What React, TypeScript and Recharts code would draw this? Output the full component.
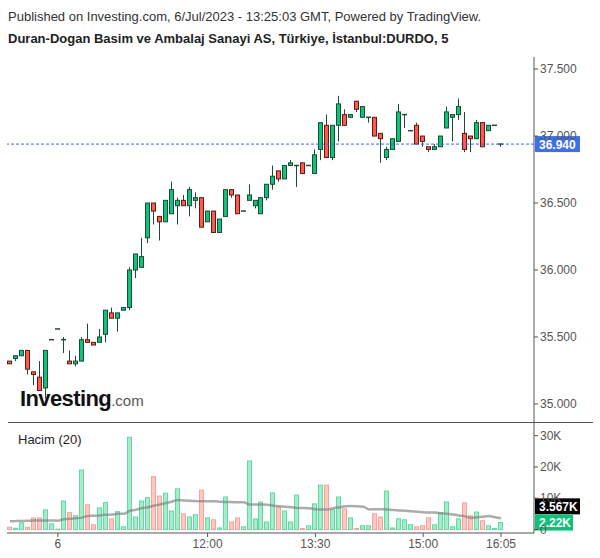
import { ComposedChart, Bar, Line, XAxis, YAxis, ReferenceLine } from 'recharts';

// 5-minute candles, DURDO
const opens = [
  35.32, 35.34, 35.36, 35.4, 35.24, 35.2, 35.12, 35.48, 35.56, 35.48,
  35.32, 35.3, 35.32, 35.48, 35.46, 35.46, 35.52, 35.68, 35.64, 35.7,
  35.72, 36.0, 36.02, 36.24, 36.5, 36.4, 36.36, 36.42, 36.48, 36.52,
  36.48, 36.52, 36.54, 36.36, 36.44, 36.28, 36.4, 36.6, 36.56, 36.44,
  36.52, 36.48, 36.42, 36.54, 36.64, 36.74, 36.68, 36.78, 36.78, 36.8,
  36.78, 36.72, 36.9, 37.08, 36.84, 37.08, 37.16, 37.14, 37.26, 37.14,
  37.14, 37.14, 37.02, 36.84, 36.9, 36.96, 37.16, 37.04, 37.08, 37.0,
  36.92, 36.9, 36.92, 37.06, 37.14, 37.16, 37.02, 37.0, 36.98, 37.1,
  37.04, 37.08, 36.94,
];
const highs = [
  35.32, 35.36, 35.4, 35.4, 35.24, 35.32, 35.4, 35.48, 35.56, 35.5,
  35.4, 35.36, 35.5, 35.6, 35.46, 35.56, 35.7, 35.72, 35.68, 35.72,
  36.02, 36.12, 36.24, 36.5, 36.5, 36.4, 36.52, 36.66, 36.54, 36.56,
  36.62, 36.58, 36.54, 36.44, 36.44, 36.38, 36.6, 36.6, 36.56, 36.44,
  36.64, 36.52, 36.54, 36.64, 36.78, 36.74, 36.78, 36.82, 36.78, 36.8,
  36.78, 36.9, 37.1, 37.16, 37.08, 37.3, 37.2, 37.16, 37.26, 37.22,
  37.14, 37.14, 37.02, 36.92, 36.98, 37.24, 37.16, 37.04, 37.1, 37.0,
  36.92, 36.94, 37.0, 37.22, 37.16, 37.28, 37.18, 37.0, 37.12, 37.1,
  37.08, 37.08, 36.94,
];
const lows = [
  35.3, 35.32, 35.36, 35.22, 35.14, 35.1, 35.04, 35.48, 35.56, 35.38,
  35.3, 35.28, 35.32, 35.46, 35.44, 35.46, 35.46, 35.64, 35.54, 35.7,
  35.7, 35.94, 36.02, 36.2, 36.34, 36.22, 36.36, 36.42, 36.34, 36.48,
  36.4, 36.46, 36.32, 36.36, 36.28, 36.28, 36.4, 36.54, 36.42, 36.44,
  36.52, 36.46, 36.42, 36.52, 36.6, 36.66, 36.68, 36.78, 36.62, 36.72,
  36.78, 36.72, 36.82, 36.84, 36.82, 36.96, 37.08, 37.14, 37.18, 37.14,
  37.1, 37.0, 36.8, 36.82, 36.9, 36.96, 37.06, 37.04, 36.94, 36.92,
  36.88, 36.9, 36.92, 37.06, 36.96, 37.12, 36.88, 36.88, 36.98, 36.92,
  37.04, 37.08, 36.92,
];
const closes = [
  35.3, 35.36, 35.4, 35.26, 35.22, 35.1, 35.4, 35.48, 35.56, 35.48,
  35.3, 35.32, 35.48, 35.46, 35.44, 35.5, 35.7, 35.64, 35.68, 35.72,
  36.0, 36.12, 36.1, 36.5, 36.44, 36.36, 36.52, 36.6, 36.52, 36.48,
  36.6, 36.54, 36.32, 36.44, 36.28, 36.38, 36.6, 36.56, 36.42, 36.44,
  36.56, 36.52, 36.54, 36.64, 36.7, 36.68, 36.78, 36.8, 36.78, 36.72,
  36.78, 36.86, 37.1, 36.84, 37.08, 37.24, 37.08, 37.16, 37.2, 37.22,
  37.14, 37.0, 36.98, 36.9, 36.98, 37.18, 37.16, 37.04, 36.94, 36.96,
  36.9, 36.92, 37.0, 37.18, 37.16, 37.22, 36.9, 36.98, 37.1, 36.92,
  37.08, 37.08, 36.94,
];
// volume in thousands
const volumes = [
  0.74, 0.4, 2.1, 0.7, 3.7, 3.7, 6.3, 1.8, 0.1, 9.1,
  5.4, 4.4, 19.0, 7.9, 1.5, 6.9, 8.6, 3.4, 5.7, 0.85,
  29.5, 4.0, 9.1, 10.2, 16.9, 10.7, 11.6, 5.9, 13.0, 5.0,
  4.0, 4.7, 12.6, 3.7, 3.1, 0.5, 10.4, 2.4, 3.7, 0.85,
  21.9, 3.4, 8.8, 2.4, 11.7, 7.2, 5.9, 2.4, 11.0, 0.3,
  1.2, 8.2, 14.2, 14.2, 6.3, 10.4, 6.6, 3.7, 0.3, 1.2,
  1.2, 5.0, 4.0, 12.3, 0.5, 3.4, 3.1, 1.5, 0.85, 1.2,
  3.7, 1.5, 5.3, 8.8, 0.85, 3.4, 8.5, 4.4, 5.6, 2.8,
  1.2, 0.3, 2.22,
];
// "Hacim (20)" average line, thousands
const volumeMa = [
  2.65, 2.7, 2.75, 2.8, 2.85, 2.85, 2.9, 2.9, 2.8, 3.3,
  3.4, 3.6, 3.8, 4.3, 4.4, 4.5, 4.7, 4.8, 5.0, 5.0,
  6.0, 6.3, 6.8, 7.1, 7.6, 8.0, 8.4, 8.9, 9.4, 9.3,
  9.2, 9.1, 9.0, 9.0, 9.0, 8.9, 8.8, 8.8, 8.7, 8.7,
  8.0, 8.0, 8.0, 7.9, 7.6, 7.4, 7.3, 7.1, 6.9, 6.9,
  6.8, 6.5, 6.4, 6.4, 6.8, 7.1, 7.4, 7.5, 7.4, 7.3,
  6.4, 6.5, 6.5, 6.4, 6.2, 6.1, 6.0, 5.8, 5.7, 5.5,
  5.4, 5.4, 5.2, 5.0, 4.8, 4.5, 4.2, 3.7, 3.9, 4.1,
  4.3, 3.9, 3.6,
];

const timeTickIndex = [8, 33, 51, 69, 82];
const timeTickText = ['6', '12:00', '13:30', '15:00', '16:05'];
const priceTicks = [35, 35.5, 36, 36.5, 37, 37.5];
const volumeTicks = [0, 10, 20, 30];
const lastPrice = 36.94;
const lastVolume = 2.22;
const lastMa = 3.567;

const data = opens.map((o, i) => ({
  i,
  o,
  h: highs[i],
  l: lows[i],
  c: closes[i],
  range: [lows[i], highs[i]],
  v: volumes[i],
  ma: volumeMa[i],
}));

const UP = '#0bc679';
const DOWN = '#ff5a50';
const UP_EDGE = '#1f4a35';
const DOWN_EDGE = '#5e1b16';
const AXIS = '#555';

const Candle = (props: any) => {
  const { x, y, width, height, payload } = props;
  const { o, h, l, c } = payload;
  const cx = Math.floor(x + width / 2) + 0.5;
  const k = h > l ? height / (h - l) : 0;
  const py = (v: number) => y + (h - v) * k;
  const up = c >= o;
  const top = py(Math.max(o, c));
  const bot = py(Math.min(o, c));
  return (
    <g>
      {h > l && <line x1={cx} x2={cx} y1={y} y2={y + height} stroke={UP_EDGE} strokeWidth={1} />}
      {bot - top < 1.5 && o === c ? (
        <line x1={cx - 2.5} x2={cx + 2.5} y1={top} y2={top} stroke={UP_EDGE} strokeWidth={1.5} />
      ) : (
        <rect
          x={cx - 2}
          y={top}
          width={4}
          height={Math.max(bot - top, 1.5)}
          fill={up ? UP : DOWN}
          stroke={up ? UP_EDGE : DOWN_EDGE}
          strokeWidth={1}
        />
      )}
    </g>
  );
};

const VolBar = (props: any) => {
  const { x, y, width, height, payload } = props;
  const up = payload.c >= payload.o;
  const cx = Math.floor(x + width / 2) + 0.5;
  return (
    <rect
      x={cx - 2}
      y={y}
      width={4}
      height={Math.max(height, 0.5)}
      fill={up ? '#a6ecca' : '#ffc8c3'}
      stroke={up ? '#5fdba4' : '#f7a39c'}
      strokeWidth={1}
    />
  );
};

const Tag = (props: any) => {
  const { viewBox, text, bg, w, dy = 0 } = props;
  if (!viewBox) return null;
  const x = viewBox.x + viewBox.width + 1;
  const cy = viewBox.y + dy;
  return (
    <g>
      <rect x={x} y={cy - 8} width={w} height={16} fill={bg} />
      <text x={x + 4} y={cy + 4.5} fill="#fff" fontSize={12} fontWeight={600}>
        {text}
      </text>
    </g>
  );
};

const margin = { top: 57, right: 0, bottom: 0, left: 7 };
const xPad = { left: 0, right: 30 };

export default function App() {
  return (
    <div
      style={{
        position: 'absolute',
        left: 0,
        top: 0,
        width: 600,
        height: 558,
        background: '#fff',
        fontFamily: '"Liberation Sans", Arial, sans-serif',
        color: '#222',
      }}
    >
      <div style={{ position: 'absolute', left: 8, top: 9, fontSize: 13, color: '#333' }}>
        Published on Investing.com, 6/Jul/2023 - 13:25:03 GMT, Powered by TradingView.
      </div>
      <div style={{ position: 'absolute', left: 8, top: 31, fontSize: 13, fontWeight: 700, color: '#222' }}>
        Duran-Dogan Basim ve Ambalaj Sanayi AS, Türkiye, İstanbul:DURDO, 5
      </div>

      <div style={{ position: 'absolute', left: 0, top: 0 }}>
        <ComposedChart width={600} height={423} data={data} margin={margin}>
          <XAxis dataKey="i" hide padding={xPad} />
          <YAxis
            orientation="right"
            width={66}
            domain={[34.858, 37.59]}
            allowDataOverflow
            ticks={priceTicks}
            tickFormatter={(v: number) => v.toFixed(3)}
            tick={{ fill: AXIS, fontSize: 12 }}
            tickSize={4}
            axisLine={{ stroke: AXIS }}
            tickLine={{ stroke: AXIS }}
          />
          <Bar dataKey="range" barSize={5} shape={Candle} isAnimationActive={false} />
          <ReferenceLine
            y={lastPrice}
            stroke="#3d6ae0"
            strokeDasharray="3 2"
            label={<Tag text={lastPrice.toFixed(3)} bg="#4070e6" w={45} />}
          />
        </ComposedChart>
      </div>

      <div style={{ position: 'absolute', left: 20, top: 386, whiteSpace: 'nowrap' }}>
        <span style={{ fontSize: 22, fontWeight: 700, color: '#111', letterSpacing: -0.6 }}>Investing</span>
        <span style={{ fontSize: 15, color: '#555' }}>.com</span>
      </div>

      <div style={{ position: 'absolute', left: 8, top: 422, width: 585, height: 1, background: AXIS }} />

      <div style={{ position: 'absolute', left: 0, top: 423 }}>
        <ComposedChart width={600} height={135} data={data} margin={{ top: 0, right: 0, bottom: 5, left: 7 }}>
          <XAxis
            dataKey="i"
            padding={xPad}
            height={20}
            ticks={timeTickIndex}
            interval={0}
            tickFormatter={(v: number) => timeTickText[timeTickIndex.indexOf(v)]}
            tick={{ fill: AXIS, fontSize: 12 }}
            tickSize={4}
            axisLine={{ stroke: AXIS }}
            tickLine={{ stroke: AXIS }}
          />
          <YAxis
            orientation="right"
            width={66}
            domain={[-1.12, 34.06]}
            allowDataOverflow
            ticks={volumeTicks}
            tickFormatter={(v: number) => (v === 0 ? '0' : `${v}K`)}
            tick={{ fill: AXIS, fontSize: 12 }}
            tickSize={4}
            axisLine={{ stroke: AXIS }}
            tickLine={{ stroke: AXIS }}
          />
          <Bar dataKey="v" barSize={5} shape={VolBar} isAnimationActive={false} />
          <Line
            dataKey="ma"
            type="monotone"
            stroke="#808080"
            strokeOpacity={0.65}
            strokeWidth={2.5}
            dot={false}
            isAnimationActive={false}
          />
          <ReferenceLine
            y={lastMa}
            stroke="none"
            label={<Tag text="3.567K" bg="#000" w={45} dy={-12} />}
          />
          <ReferenceLine
            y={lastVolume}
            stroke="none"
            label={<Tag text="2.22K" bg="#0bc27a" w={38} />}
          />
        </ComposedChart>
      </div>

      <div style={{ position: 'absolute', left: 18, top: 432, fontSize: 13, color: '#222' }}>Hacim (20)</div>
    </div>
  );
}
